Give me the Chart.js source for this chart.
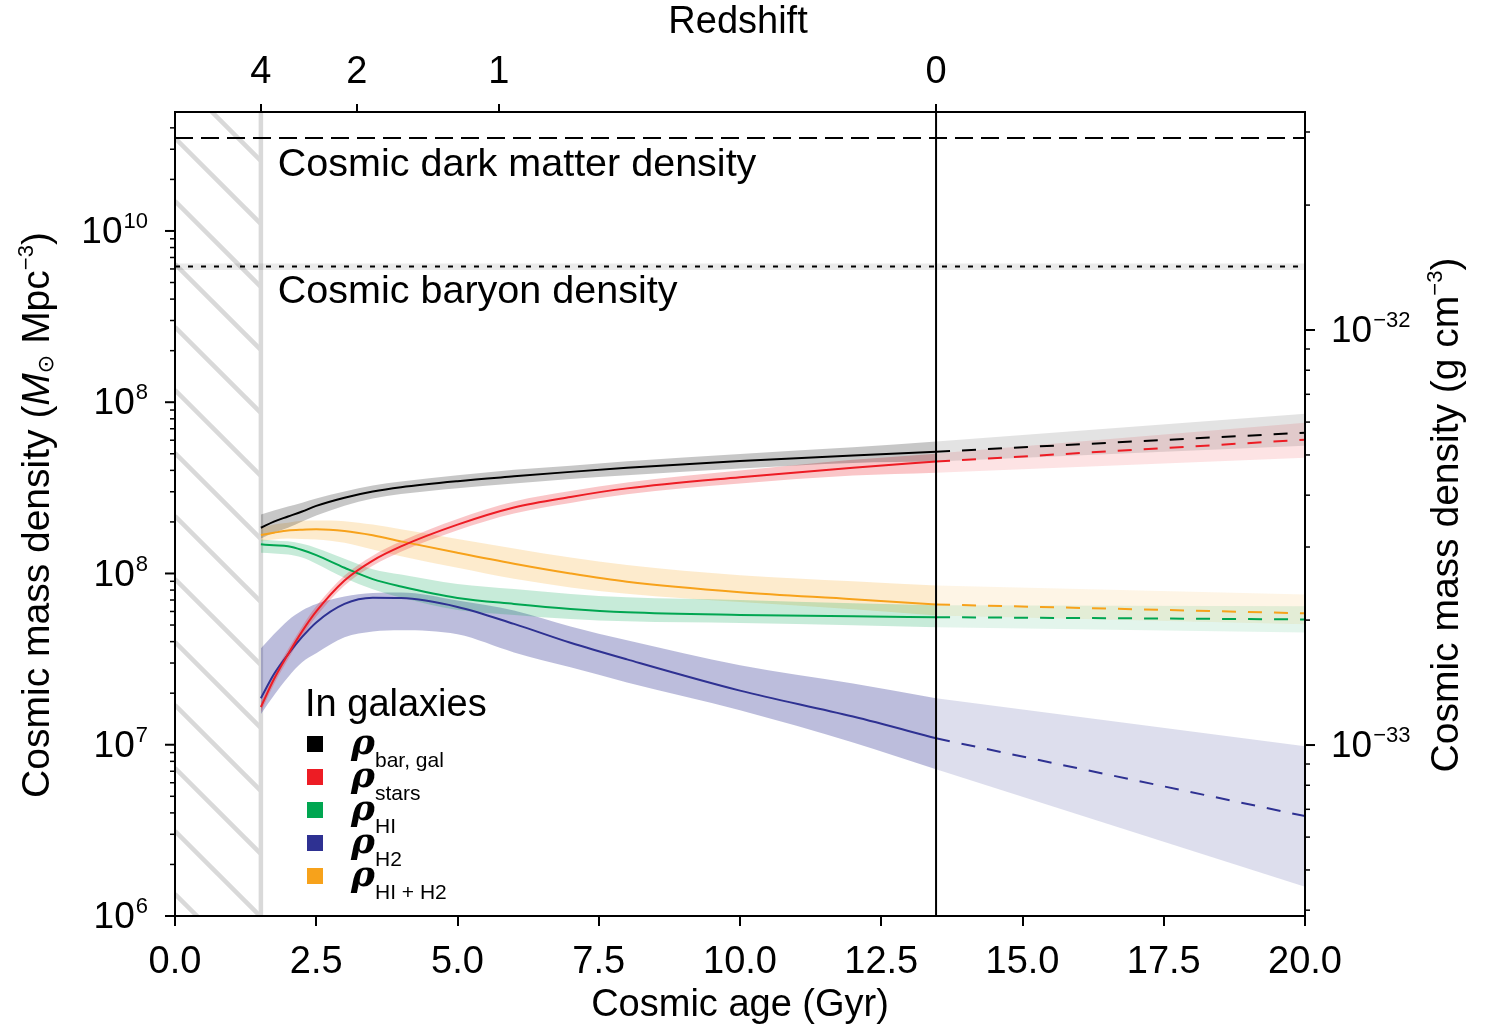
<!DOCTYPE html>
<html>
<head>
<meta charset="utf-8">
<title>Cosmic mass density</title>
<script src="https://cdn.jsdelivr.net/npm/chart.js@4.4.1/dist/chart.umd.min.js"></script>
<style>
  html, body { margin: 0; padding: 0; background: #fff; }
  canvas { display: block; }
</style>
</head>
<body>
<canvas id="chart" width="1488" height="1027"></canvas>
<script>
// AGES (Gyr)
const ageSolid  = [1.52, 1.75, 2.0, 2.25, 2.5, 3.0, 3.5, 4.0, 5.0, 6.0, 7.0, 8.0, 10.0, 12.0, 13.47];
const ageFuture = [13.47, 20.0];
const hatchEndAge = 1.52;

// REDSHIFT AXIS (top)
const redshiftLabels = ["4", "2", "1", "0"];
const redshiftAges   = [1.52, 3.22, 5.73, 13.47];

// TICK LABELS
const leftTickValues  = [1e6, 1e7, 1e8, 1e9, 1e10];
const leftTickExps    = ["6", "7", "8", "8", "10"];
const rightTickValues = [1e-33, 1e-32];
const rightTickExps   = ["\u221233", "\u221232"];

// COSMIC REFERENCE DENSITIES (M_sun Mpc^-3)
const darkMatterDensity = 3.49e10;
const baryonDensity     = 6.21e9;
const baryonRange       = [5.92e9, 6.46e9];

// IN GALAXIES (M_sun Mpc^-3)
const barGal   = [1.85e8, 2.01e8, 2.15e8, 2.30e8, 2.48e8, 2.77e8, 3.01e8, 3.19e8, 3.46e8, 3.69e8, 3.92e8, 4.14e8, 4.53e8, 4.88e8, 5.14e8];
const barGalHi = [2.21e8, 2.33e8, 2.46e8, 2.59e8, 2.74e8, 3.01e8, 3.26e8, 3.44e8, 3.74e8, 4.04e8, 4.26e8, 4.52e8, 4.99e8, 5.45e8, 5.89e8];
const barGalLo = [1.60e8, 1.73e8, 1.85e8, 2.01e8, 2.18e8, 2.49e8, 2.74e8, 2.91e8, 3.15e8, 3.35e8, 3.56e8, 3.75e8, 4.10e8, 4.42e8, 4.50e8];

const stars   = [1.66e7, 2.41e7, 3.37e7, 4.59e7, 6.00e7, 9.10e7, 1.19e8, 1.44e8, 1.93e8, 2.43e8, 2.80e8, 3.14e8, 3.65e8, 4.15e8, 4.50e8];
const starsHi = [1.77e7, 2.58e7, 3.61e7, 4.91e7, 6.43e7, 9.73e7, 1.27e8, 1.54e8, 2.08e8, 2.63e8, 3.03e8, 3.40e8, 3.99e8, 4.62e8, 5.01e8];
const starsLo = [1.55e7, 2.25e7, 3.15e7, 4.30e7, 5.61e7, 8.51e7, 1.11e8, 1.34e8, 1.79e8, 2.24e8, 2.58e8, 2.90e8, 3.35e8, 3.73e8, 3.88e8];

const hi   = [1.48e8, 1.46e8, 1.44e8, 1.37e8, 1.28e8, 1.08e8, 9.27e7, 8.40e7, 7.20e7, 6.64e7, 6.21e7, 5.94e7, 5.73e7, 5.62e7, 5.56e7];
const hiHi = [1.58e8, 1.56e8, 1.54e8, 1.49e8, 1.41e8, 1.22e8, 1.06e8, 9.87e7, 8.69e7, 8.12e7, 7.59e7, 7.26e7, 7.00e7, 6.70e7, 6.53e7];
const hiLo = [1.32e8, 1.31e8, 1.29e8, 1.24e8, 1.14e8, 9.42e7, 8.09e7, 7.24e7, 6.12e7, 5.73e7, 5.43e7, 5.26e7, 5.14e7, 4.99e7, 4.86e7];

const h2   = [1.87e7, 2.58e7, 3.37e7, 4.26e7, 5.18e7, 6.64e7, 7.21e7, 7.18e7, 6.38e7, 5.08e7, 3.94e7, 3.15e7, 2.07e7, 1.46e7, 1.09e7];
const h2Hi = [3.65e7, 4.41e7, 5.32e7, 6.08e7, 6.64e7, 7.34e7, 7.69e7, 7.74e7, 6.96e7, 6.08e7, 4.90e7, 4.07e7, 2.91e7, 2.28e7, 1.87e7];
const h2Lo = [1.51e7, 1.94e7, 2.48e7, 3.03e7, 3.42e7, 4.24e7, 4.59e7, 4.66e7, 4.41e7, 3.46e7, 2.83e7, 2.31e7, 1.59e7, 1.03e7, 7.20e6];

const hih2   = [1.68e8, 1.73e8, 1.78e8, 1.80e8, 1.81e8, 1.77e8, 1.67e8, 1.54e8, 1.32e8, 1.14e8, 1.00e8, 8.95e7, 7.78e7, 7.08e7, 6.59e7];
const hih2Hi = [1.84e8, 1.93e8, 1.98e8, 2.03e8, 2.04e8, 2.02e8, 1.93e8, 1.81e8, 1.59e8, 1.40e8, 1.24e8, 1.12e8, 9.77e7, 9.01e7, 8.51e7];
const hih2Lo = [1.55e8, 1.58e8, 1.60e8, 1.59e8, 1.58e8, 1.51e8, 1.38e8, 1.26e8, 1.08e8, 9.31e7, 8.29e7, 7.62e7, 6.81e7, 6.18e7, 5.69e7];

// FUTURE (dashed) PART, ages 13.47 -> 20
const barGalFuture   = [5.14e8, 6.64e8];
const barGalFutureHi = [5.89e8, 8.57e8];
const barGalFutureLo = [4.50e8, 5.57e8];
const starsFuture    = [4.50e8, 6.04e8];
const starsFutureHi  = [5.01e8, 7.59e8];
const starsFutureLo  = [3.88e8, 4.74e8];
const hiFuture       = [5.56e7, 5.39e7];
const hiFutureHi     = [6.53e7, 6.43e7];
const hiFutureLo     = [4.86e7, 4.53e7];
const h2Future       = [1.09e7, 3.83e6];
const h2FutureHi     = [1.87e7, 9.80e6];
const h2FutureLo     = [7.20e6, 1.48e6];
const hih2Future     = [6.59e7, 5.85e7];
const hih2FutureHi   = [8.51e7, 7.55e7];
const hih2FutureLo   = [5.69e7, 5.05e7];

// SERIES
const seriesNames  = ["bar, gal", "stars", "HI", "H2", "HI + H2"];
const seriesColors = ["#000000", "#ed1c24", "#00a651", "#2e3192", "#f7a21b"];
const bandAlpha    = [0.22, 0.25, 0.22, 0.32, 0.22];
const series = [
  { mid: barGal, hi: barGalHi, lo: barGalLo, fMid: barGalFuture, fHi: barGalFutureHi, fLo: barGalFutureLo },
  { mid: stars,  hi: starsHi,  lo: starsLo,  fMid: starsFuture,  fHi: starsFutureHi,  fLo: starsFutureLo },
  { mid: hi,     hi: hiHi,     lo: hiLo,     fMid: hiFuture,     fHi: hiFutureHi,     fLo: hiFutureLo },
  { mid: h2,     hi: h2Hi,     lo: h2Lo,     fMid: h2Future,     fHi: h2FutureHi,     fLo: h2FutureLo },
  { mid: hih2,   hi: hih2Hi,   lo: hih2Lo,   fMid: hih2Future,   fHi: hih2FutureHi,   fLo: hih2FutureLo }
];

const FONT = '"Liberation Sans", "DejaVu Sans", Arial, sans-serif';

// HELPERS
function pts(xs, ys){ return xs.map((x,i)=>({x:x, y:ys[i]})); }
function rgba(hex,a){
  let n=parseInt(hex.slice(1),16);
  return `rgba(${(n>>16)&255},${(n>>8)&255},${n&255},${a})`;
}
function band(xs,hiArr,loArr,color,smooth){
  let mode=smooth?"monotone":"default";
  return [
    {data:pts(xs,hiArr),borderWidth:0,borderColor:"transparent",pointRadius:0,fill:false,cubicInterpolationMode:mode,order:10},
    {data:pts(xs,loArr),borderWidth:0,borderColor:"transparent",pointRadius:0,fill:"-1",backgroundColor:color,cubicInterpolationMode:mode,order:10}
  ];
}

// DATASETS
let datasets=[];
series.forEach((s,i)=>{
  datasets.push(...band(ageSolid,s.hi,s.lo,rgba(seriesColors[i],bandAlpha[i]),true));
  datasets.push(...band(ageFuture,s.fHi,s.fLo,rgba(seriesColors[i],bandAlpha[i]*0.5),false));
});
datasets.push(...band([0,20],[baryonRange[1],baryonRange[1]],[baryonRange[0],baryonRange[0]],"rgba(0,0,0,0.08)",false));
datasets.push({data:pts([0,20],[darkMatterDensity,darkMatterDensity]),borderColor:"#000",borderWidth:2,borderDash:[18,8],pointRadius:0,order:5});
datasets.push({data:pts([0,20],[baryonDensity,baryonDensity]),borderColor:"#000",borderWidth:2,borderDash:[5,8],pointRadius:0,order:5});
series.forEach((s,i)=>{
  datasets.push({data:pts(ageSolid,s.mid),borderColor:seriesColors[i],borderWidth:2,pointRadius:0,cubicInterpolationMode:"monotone",order:1});
  datasets.push({data:pts(ageFuture,s.fMid),borderColor:seriesColors[i],borderWidth:2,borderDash:[14,12],pointRadius:0,order:1});
});

// DRAWING HELPERS
function drawPower(ctx,x,y,base,exp,alignRight,mainSize,supSize){
  ctx.font=`${mainSize}px ${FONT}`;
  let wb=ctx.measureText(base).width;
  ctx.font=`${supSize}px ${FONT}`;
  let we=ctx.measureText(exp).width;
  let xs=alignRight?x-wb-we-1:x;
  ctx.textAlign="left";ctx.textBaseline="middle";
  ctx.font=`${mainSize}px ${FONT}`;
  ctx.fillText(base,xs,y);
  ctx.font=`${supSize}px ${FONT}`;
  ctx.fillText(exp,xs+wb+1,y-11);
}

// pieces: [text, font, dy]
function drawPieces(ctx,pieces,cx,cy){
  let total=0;
  pieces.forEach(p=>{ctx.font=p[1];p.w=ctx.measureText(p[0]).width;total+=p.w;});
  let x=cx-total/2;
  ctx.textAlign="left";ctx.textBaseline="middle";
  pieces.forEach(p=>{ctx.font=p[1];ctx.fillText(p[0],x,cy+p[2]);x+=p.w;});
}

const decorations={
  id:"decorations",
  beforeDatasetsDraw(chart){
    const {ctx,chartArea:a,scales:{x}}=chart;
    let x0=x.getPixelForValue(0), x1=x.getPixelForValue(hatchEndAge);
    ctx.save();
    ctx.beginPath();ctx.rect(x0,a.top,x1-x0,a.bottom-a.top);ctx.clip();
    ctx.strokeStyle="#d9d9d9";ctx.lineWidth=4.5;
    for(let y=a.top+26-126;y<a.bottom+10;y+=63){
      ctx.beginPath();ctx.moveTo(x0,y);ctx.lineTo(x1,y+(x1-x0));ctx.stroke();
    }
    ctx.restore();
    ctx.save();
    ctx.strokeStyle="#d9d9d9";ctx.lineWidth=4.5;
    ctx.beginPath();ctx.moveTo(x1,a.top);ctx.lineTo(x1,a.bottom);ctx.stroke();
    ctx.restore();
  },
  afterDatasetsDraw(chart){
    const {ctx,chartArea:a,scales:{x,y}}=chart;
    ctx.save();
    // z = 0 line
    let xz=x.getPixelForValue(redshiftAges[3]);
    ctx.strokeStyle="#000";ctx.lineWidth=2;
    ctx.beginPath();ctx.moveTo(xz,a.top);ctx.lineTo(xz,a.bottom);ctx.stroke();
    // annotations
    ctx.fillStyle="#000";ctx.textAlign="left";ctx.textBaseline="middle";
    ctx.font=`39.5px ${FONT}`;
    let tx=x.getPixelForValue(1.82);
    ctx.fillText("Cosmic dark matter density",tx,y.getPixelForValue(darkMatterDensity)+27);
    ctx.fillText("Cosmic baryon density",tx,y.getPixelForValue(baryonDensity)+26);
    // legend
    ctx.font=`38px ${FONT}`;
    ctx.textBaseline="alphabetic";
    ctx.fillText("In galaxies",305,716);
    seriesNames.forEach((n,i)=>{
      let ry=744+33*i;
      ctx.fillStyle=seriesColors[i];
      ctx.fillRect(307,ry-8,16,16);
      ctx.fillStyle="#000";
      ctx.font=`italic bold 36px "DejaVu Serif", "Liberation Serif", serif`;
      ctx.fillText("\u03c1",351,ry+10);
      ctx.font=`21px ${FONT}`;
      ctx.fillText(n,375,ry+23);
    });
    ctx.restore();
  },
  afterDraw(chart){
    const {ctx,chartArea:a,scales}=chart;
    const y=scales.y, y2=scales.y2;
    ctx.save();
    ctx.strokeStyle="#000";ctx.fillStyle="#000";
    // frame
    ctx.lineWidth=2;
    ctx.strokeRect(a.left,a.top,a.right-a.left,a.bottom-a.top);
    // left ticks
    for(let n=6;n<=10;n++){
      for(let m=1;m<=9;m++){
        let v=m*Math.pow(10,n);
        if(v<y.min||v>y.max) continue;
        let py=y.getPixelForValue(v), len=m===1?10:5;
        ctx.lineWidth=m===1?2:1.5;
        ctx.beginPath();ctx.moveTo(a.left-len,py);ctx.lineTo(a.left,py);ctx.stroke();
      }
    }
    // right ticks
    for(let n=-34;n<=-32;n++){
      for(let m=1;m<=9;m++){
        let v=m*Math.pow(10,n);
        if(v<y2.min||v>y2.max) continue;
        let py=y2.getPixelForValue(v), len=m===1?10:5;
        ctx.lineWidth=m===1?2:1.5;
        ctx.beginPath();ctx.moveTo(a.right,py);ctx.lineTo(a.right+len,py);ctx.stroke();
      }
    }
    // tick labels
    leftTickValues.forEach((v,i)=>{
      drawPower(ctx,148,y.getPixelForValue(v)+2,"10",leftTickExps[i],true,37,22);
    });
    rightTickValues.forEach((v,i)=>{
      drawPower(ctx,1331,y2.getPixelForValue(v)+2,"10",rightTickExps[i],false,37,22);
    });
    // titles
    ctx.textAlign="center";ctx.textBaseline="middle";
    ctx.font=`38px ${FONT}`;
    ctx.fillText("Cosmic age (Gyr)",(a.left+a.right)/2,1006);
    ctx.fillText("Redshift",(a.left+a.right)/2-2,23);
    const n39=`39px ${FONT}`, i39=`italic 39px ${FONT}`, s22=`22px ${FONT}`;
    ctx.save();
    ctx.translate(38,515);ctx.rotate(-Math.PI/2);
    drawPieces(ctx,[["Cosmic mass density (",n39,0],["M",i39,0],["\u2299",s22,9],[" Mpc",n39,0],["\u22123",s22,-11],[")",n39,0]],0,0);
    ctx.restore();
    ctx.save();
    ctx.translate(1447,515);ctx.rotate(-Math.PI/2);
    drawPieces(ctx,[["Cosmic mass density (g cm",n39,0],["\u22123",s22,-11],[")",n39,0]],0,0);
    ctx.restore();
    ctx.restore();
  }
};

Chart.defaults.font.family=FONT;
Chart.defaults.color="#000";

new Chart(document.getElementById("chart"),{
  type:"line",
  data:{datasets:datasets},
  options:{
    responsive:false,
    animation:false,
    devicePixelRatio:1,
    events:[],
    layout:{padding:0},
    plugins:{legend:{display:false},tooltip:{enabled:false}},
    scales:{
      x:{
        type:"linear",position:"bottom",min:0,max:20,
        ticks:{stepSize:2.5,callback:v=>v.toFixed(1),font:{size:38},color:"#000",padding:14,maxRotation:0,autoSkip:false},
        grid:{display:true,drawOnChartArea:false,tickLength:10,color:"#000",lineWidth:2},
        border:{display:false},
        afterFit:s=>{s.height=111;}
      },
      x2:{
        type:"linear",position:"top",min:0,max:20,
        afterBuildTicks:axis=>{axis.ticks=redshiftAges.map(v=>({value:v}));},
        ticks:{callback:(v,i)=>redshiftLabels[i],font:{size:38},color:"#000",padding:9,maxRotation:0,autoSkip:false},
        grid:{display:true,drawOnChartArea:false,tickLength:8,color:"#000",lineWidth:2},
        border:{display:false},
        afterFit:s=>{s.height=112;}
      },
      y:{
        type:"logarithmic",position:"left",min:1e6,max:4.95e10,
        ticks:{display:false},grid:{display:false},border:{display:false},
        afterFit:s=>{s.width=175;}
      },
      y2:{
        type:"logarithmic",position:"right",min:3.873e-34,max:3.352e-32,
        ticks:{display:false},grid:{display:false},border:{display:false},
        afterFit:s=>{s.width=183;}
      }
    }
  },
  plugins:[decorations]
});
</script>
</body>
</html>
